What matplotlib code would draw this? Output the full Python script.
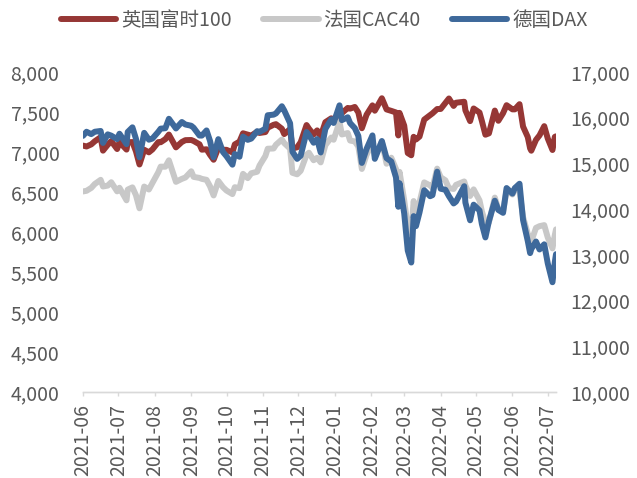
import matplotlib
matplotlib.use("Agg")
import matplotlib.pyplot as plt
import matplotlib.dates as mdates
import matplotlib.ticker as mticker
import pandas as pd

plt.rcParams['font.family'] = ['Noto Sans CJK SC', 'DejaVu Sans']

dates = [
    "2021-06-01", "2021-06-04", "2021-06-08", "2021-06-11", "2021-06-16", "2021-06-18",
    "2021-06-22", "2021-06-25", "2021-06-30", "2021-07-02", "2021-07-08", "2021-07-09",
    "2021-07-13", "2021-07-16", "2021-07-19", "2021-07-23", "2021-07-27", "2021-07-30",
    "2021-08-04", "2021-08-06", "2021-08-10", "2021-08-13", "2021-08-19", "2021-08-24",
    "2021-08-27", "2021-09-01", "2021-09-03", "2021-09-08", "2021-09-10", "2021-09-14",
    "2021-09-17", "2021-09-20", "2021-09-24", "2021-09-28", "2021-10-01", "2021-10-06",
    "2021-10-08", "2021-10-12", "2021-10-15", "2021-10-19", "2021-10-22", "2021-10-27",
    "2021-10-29", "2021-11-03", "2021-11-05", "2021-11-10", "2021-11-12", "2021-11-17",
    "2021-11-19", "2021-11-24", "2021-11-26", "2021-11-30", "2021-12-03", "2021-12-08",
    "2021-12-10", "2021-12-14", "2021-12-17", "2021-12-20", "2021-12-24", "2021-12-29",
    "2021-12-31", "2022-01-05", "2022-01-07", "2022-01-12", "2022-01-14", "2022-01-18",
    "2022-01-21", "2022-01-24", "2022-01-28", "2022-02-02", "2022-02-04", "2022-02-10",
    "2022-02-14", "2022-02-18", "2022-02-22", "2022-02-24", "2022-02-25", "2022-03-01",
    "2022-03-04", "2022-03-07", "2022-03-09", "2022-03-11", "2022-03-14", "2022-03-18",
    "2022-03-23", "2022-03-25", "2022-03-29", "2022-04-01", "2022-04-05", "2022-04-08",
    "2022-04-12", "2022-04-14", "2022-04-21", "2022-04-22", "2022-04-26", "2022-04-29",
    "2022-05-04", "2022-05-06", "2022-05-09", "2022-05-12", "2022-05-17", "2022-05-20",
    "2022-05-24", "2022-05-27", "2022-06-01", "2022-06-03", "2022-06-07", "2022-06-10",
    "2022-06-14", "2022-06-16", "2022-06-17", "2022-06-21", "2022-06-24", "2022-06-28",
    "2022-07-01", "2022-07-05", "2022-07-07", "2022-07-08",
]

ftse100 = [
    7080, 7069, 7095, 7134, 7185, 7017, 7090, 7136, 7037, 7123, 7030, 7122,
    7124, 7008, 6844, 7028, 6996, 7032, 7124, 7122, 7161, 7218, 7058, 7125,
    7148, 7150, 7138, 7096, 7029, 7034, 6964, 6903, 7051, 7028, 7027, 6995,
    7095, 7130, 7234, 7217, 7205, 7253, 7238, 7249, 7304, 7340, 7348, 7291,
    7224, 7286, 7044, 7059, 7122, 7337, 7292, 7219, 7270, 7198, 7373, 7421,
    7385, 7516, 7486, 7551, 7542, 7563, 7494, 7297, 7466, 7583, 7516, 7672,
    7532, 7514, 7494, 7207, 7489, 7330, 6987, 6959, 7190, 7156, 7193, 7405,
    7461, 7483, 7537, 7538, 7613, 7669, 7576, 7616, 7628, 7521, 7386, 7544,
    7493, 7388, 7216, 7233, 7518, 7390, 7485, 7585, 7533, 7533, 7598, 7318,
    7187, 7045, 7016, 7152, 7208, 7323, 7169, 7025, 7189, 7196,
]

cac40 = [
    6507, 6515, 6551, 6600, 6652, 6569, 6580, 6622, 6508, 6553, 6396, 6530,
    6558, 6460, 6296, 6568, 6531, 6613, 6747, 6817, 6816, 6896, 6627, 6664,
    6681, 6759, 6689, 6676, 6664, 6652, 6570, 6457, 6638, 6560, 6518, 6474,
    6560, 6548, 6727, 6673, 6734, 6753, 6830, 6950, 7041, 7044, 7091, 7156,
    7112, 7042, 6740, 6721, 6765, 6966, 6991, 6897, 6927, 6870, 7086, 7181,
    7153, 7376, 7219, 7237, 7143, 7132, 7068, 6788, 6965, 7115, 6951, 7130,
    6853, 6929, 6788, 6521, 6752, 6397, 6061, 5982, 6387, 6260, 6370, 6620,
    6582, 6553, 6792, 6684, 6646, 6548, 6538, 6589, 6632, 6582, 6450, 6533,
    6395, 6258, 6117, 6120, 6430, 6285, 6253, 6515, 6469, 6548, 6500, 6187,
    5979, 5886, 5882, 6052, 6073, 6086, 5931, 5795, 5962, 6033,
]

dax = [
    15603, 15693, 15641, 15693, 15710, 15448, 15636, 15608, 15531, 15650, 15421, 15688,
    15790, 15540, 15133, 15669, 15519, 15544, 15692, 15761, 15770, 15977, 15765, 15906,
    15852, 15824, 15781, 15610, 15609, 15722, 15490, 15132, 15531, 15249, 15156, 14973,
    15206, 15146, 15587, 15516, 15543, 15705, 15688, 15760, 16054, 16067, 16094, 16251,
    16160, 15879, 15257, 15100, 15170, 15687, 15623, 15453, 15532, 15239, 15756, 15964,
    15885, 16271, 15947, 16010, 15883, 15772, 15603, 15011, 15318, 15613, 15100, 15490,
    15114, 15042, 14693, 14052, 14567, 13905, 13094, 12832, 13847, 13628, 13929, 14413,
    14283, 14306, 14820, 14446, 14424, 14284, 14124, 14164, 14502, 14142, 13756, 14098,
    13971, 13674, 13381, 13739, 14185, 13982, 13919, 14462, 14340, 14460, 14556, 13762,
    13304, 13038, 13127, 13292, 13118, 13231, 12813, 12401, 12843, 13015,
]

series_names = ["英国富时100", "法国CAC40", "德国DAX"]
month_ticks = pd.date_range("2021-06-01", "2022-07-01", freq="MS")
left_ticks = list(range(4000, 8001, 500))
right_ticks = list(range(10000, 17001, 1000))

x = pd.to_datetime(dates)
txt = "#595959"

fig = plt.figure(figsize=(6.37, 4.78), dpi=100)
ax = fig.add_axes([83/637, 86/478, (556-83)/637, 320/478])
ax2 = ax.twinx()

kw = dict(lw=4.3, solid_capstyle='round', solid_joinstyle='round')
l1, = ax.plot(x, ftse100, color="#963735", label=series_names[0], **kw)
l2, = ax.plot(x, cac40, color="#c8c8c8", label=series_names[1], **kw)
l3, = ax2.plot(x, dax, color="#3e699b", label=series_names[2], **kw)

ax.set_xlim(pd.Timestamp("2021-06-01"), pd.Timestamp("2022-07-08"))
ax.set_ylim(4000, 8000)
ax2.set_ylim(10000, 17000)
ax.set_yticks(left_ticks)
ax2.set_yticks(right_ticks)
fmt = mticker.FuncFormatter(lambda v, p: f"{int(v):,}")
ax.yaxis.set_major_formatter(fmt)
ax2.yaxis.set_major_formatter(fmt)

ax.set_xticks(month_ticks)
ax.set_xticklabels([d.strftime("%Y-%m") for d in month_ticks], rotation=90)

for a in (ax, ax2):
    for s in ("top", "left", "right"):
        a.spines[s].set_visible(False)
    a.spines["bottom"].set_color("#d9d9d9")
    a.spines["bottom"].set_linewidth(1.0)
    a.patch.set_visible(False)

ax.tick_params(axis='x', length=3, width=1, color="#d9d9d9", pad=6,
               labelsize=14, labelcolor=txt)
ax.tick_params(axis='y', length=0, pad=17, labelsize=14, labelcolor=txt)
ax2.tick_params(axis='y', length=0, pad=10, labelsize=14, labelcolor=txt)

fig.legend(handles=[l1, l2, l3], loc='center', bbox_to_anchor=(0.509, 0.958),
           ncol=3, frameon=False, fontsize=14, labelcolor=txt,
           handlelength=2.85, handletextpad=0.25, columnspacing=1.6,
           borderaxespad=0, borderpad=0)

fig.savefig("out.png", dpi=100)
